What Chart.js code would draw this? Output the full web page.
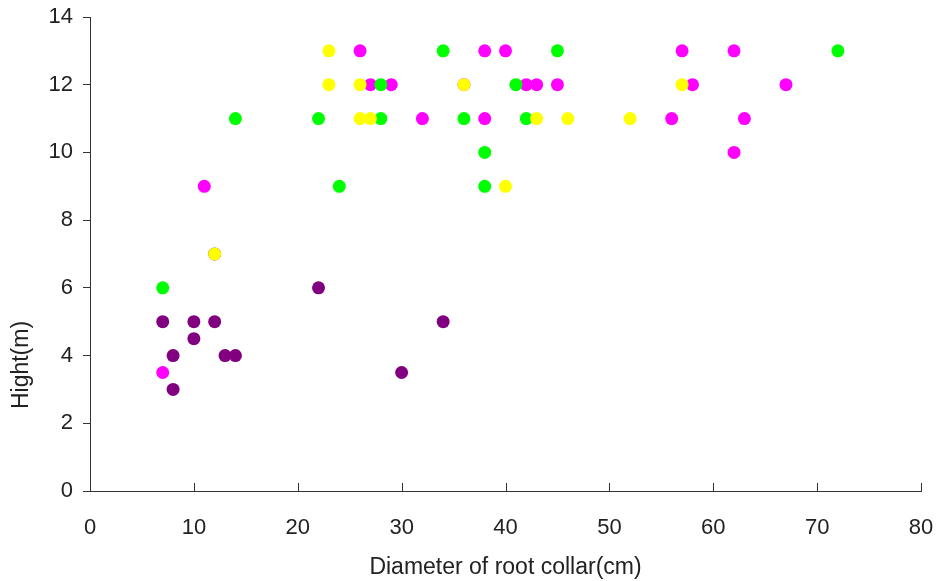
<!DOCTYPE html>
<html>
<head>
<meta charset="utf-8">
<script src="https://cdn.jsdelivr.net/npm/chart.js@4"></script>
<style>
  html, body { margin: 0; padding: 0; background: #ffffff; }
  #wrap { width: 940px; height: 581px; }
</style>
</head>
<body>
<div id="wrap"><canvas id="c" width="940" height="581"></canvas></div>
<script>
// ---- data ----
const xTickLabels = [0, 10, 20, 30, 40, 50, 60, 70, 80];
const yTickLabels = [0, 2, 4, 6, 8, 10, 12, 14];

const purpleX  = [7, 8, 8, 10, 10, 12, 13, 14, 22, 30, 34, 12];
const purpleY  = [5, 4, 3, 5, 4.5, 5, 4, 4, 6, 3.5, 5, 7];

const magentaX = [7, 11, 26, 27, 29, 32, 36, 38, 38, 40, 42, 43, 45, 56, 57, 58, 62, 62, 63, 67];
const magentaY = [3.5, 9, 13, 12, 12, 11, 12, 13, 11, 13, 12, 12, 12, 11, 13, 12, 13, 10, 11, 12];

const greenX   = [7, 14, 22, 24, 28, 28, 34, 36, 38, 38, 41, 42, 45, 72];
const greenY   = [6, 11, 11, 9, 12, 11, 13, 11, 10, 9, 12, 11, 13, 13];

const yellowX  = [12, 23, 23, 26, 26, 27, 36, 40, 43, 46, 52, 57];
const yellowY  = [7, 13, 12, 12, 11, 11, 12, 9, 11, 11, 11, 12];

const xTitle = 'Diameter of root collar(cm)';
const yTitle = 'Hight(m)';

function pts(xs, ys) { return xs.map((x, i) => ({ x: x, y: ys[i] })); }

const axisColor = '#333333';
const textColor = '#222222';
const fontFamily = '"Liberation Sans", Arial, sans-serif';

// inward tick marks on the x axis, placed by the library's own scale
const innerXTicks = {
  id: 'innerXTicks',
  afterDraw(chart) {
    const xs = chart.scales.x, ys = chart.scales.y;
    const ctx = chart.ctx;
    const yb = ys.getPixelForValue(0);
    ctx.save();
    ctx.strokeStyle = axisColor;
    ctx.lineWidth = 1;
    ctx.beginPath();
    xs.ticks.forEach(t => {
      const px = Math.round(xs.getPixelForValue(t.value)) + 0.5;
      ctx.moveTo(px, yb);
      ctx.lineTo(px, yb - 8);
    });
    ctx.stroke();
    ctx.restore();
  }
};

// y-axis title, set lower than centre as in the reference
const yTitlePlugin = {
  id: 'yTitlePlugin',
  afterDraw(chart) {
    const ctx = chart.ctx;
    const ca = chart.chartArea;
    ctx.save();
    ctx.translate(22, ca.bottom - 126);
    ctx.rotate(-Math.PI / 2);
    ctx.fillStyle = textColor;
    ctx.font = '23px ' + fontFamily;
    ctx.textAlign = 'center';
    ctx.textBaseline = 'middle';
    ctx.fillText(yTitle, 0, 0);
    ctx.restore();
  }
};

const ptStyle = { pointRadius: 6.5, pointHoverRadius: 6.5, borderWidth: 0, showLine: false };

new Chart(document.getElementById('c'), {
  type: 'scatter',
  data: {
    datasets: [
      Object.assign({ label: 'purple',  data: pts(purpleX, purpleY),   backgroundColor: '#800080', borderColor: '#800080', order: 4 }, ptStyle),
      Object.assign({ label: 'magenta', data: pts(magentaX, magentaY), backgroundColor: '#FF00FF', borderColor: '#FF00FF', order: 3 }, ptStyle),
      Object.assign({ label: 'green',   data: pts(greenX, greenY),     backgroundColor: '#00FF00', borderColor: '#00FF00', order: 2 }, ptStyle),
      Object.assign({ label: 'yellow',  data: pts(yellowX, yellowY),   backgroundColor: '#FFFF00', borderColor: '#FFFF00', order: 1 }, ptStyle)
    ]
  },
  options: {
    responsive: false,
    devicePixelRatio: 1,
    animation: false,
    layout: { padding: { top: 17, right: 19, left: 0, bottom: 0 } },
    plugins: { legend: { display: false }, tooltip: { enabled: false } },
    scales: {
      x: {
        type: 'linear',
        min: xTickLabels[0],
        max: xTickLabels[xTickLabels.length - 1],
        afterBuildTicks(scale) { scale.ticks = xTickLabels.map(v => ({ value: v })); },
        afterFit(scale) { scale.height = 90; scale.paddingLeft = 0; scale.paddingRight = 0; },
        grid: { display: true, drawOnChartArea: false, drawTicks: false },
        border: { display: true, color: axisColor, width: 1 },
        ticks: { color: textColor, font: { family: fontFamily, size: 22 }, padding: 24, maxRotation: 0 },
        title: { display: true, text: xTitle, color: textColor, font: { family: fontFamily, size: 23 }, padding: { top: 0, bottom: 0 } }
      },
      y: {
        type: 'linear',
        min: yTickLabels[0],
        max: yTickLabels[yTickLabels.length - 1],
        afterBuildTicks(scale) { scale.ticks = yTickLabels.map(v => ({ value: v })); },
        afterFit(scale) { scale.width = 90; scale.paddingTop = 0; scale.paddingBottom = 0; },
        grid: { display: true, drawOnChartArea: false, drawTicks: true, tickLength: 7, color: axisColor },
        border: { display: true, color: axisColor, width: 1 },
        ticks: { color: textColor, font: { family: fontFamily, size: 22 }, padding: 10 },
        title: { display: false }
      }
    }
  },
  plugins: [innerXTicks, yTitlePlugin]
});
</script>
</body>
</html>
